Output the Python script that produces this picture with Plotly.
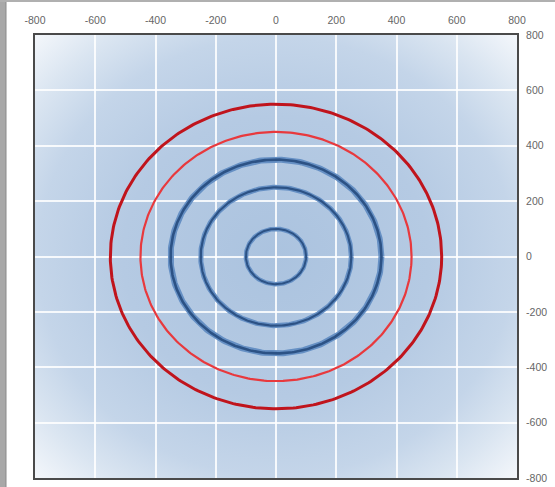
import math
import base64
import plotly.graph_objects as go

# ---- data ----
BLUE_RADII = [100, 250, 350]
RED_RADII = [450, 550]
TICK_VALUES = [-800, -600, -400, -200, 0, 200, 400, 600, 800]
TICK_LABELS = ["-800", "-600", "-400", "-200", "0", "200", "400", "600", "800"]
AXIS_RANGE = [-800, 800]

# ---- styles ----
BLUE_STYLE = {100: (4.5, 2.0), 250: (5.0, 2.2), 350: (6.0, 2.6)}  # (glow width, core width)
RED_STYLE = {450: ("#e8393d", 2.2), 550: ("#c0141c", 3.0)}

W, H = 555, 487
L, R, T, B = 35, 38, 35, 9
PW, PH = W - L - R, H - T - B


def ring(r, n=361):
    th = [2 * math.pi * i / (n - 1) for i in range(n)]
    return [r * math.cos(t) for t in th], [r * math.sin(t) for t in th]


fig = go.Figure()

for r in BLUE_RADII:
    xs, ys = ring(r)
    glow, core = BLUE_STYLE[r]
    fig.add_trace(go.Scatter(x=xs, y=ys, mode="lines",
                             line=dict(color="#6690c4", width=glow),
                             hoverinfo="skip", showlegend=False))
    fig.add_trace(go.Scatter(x=xs, y=ys, mode="lines",
                             line=dict(color="#2c5285", width=core),
                             hoverinfo="skip", showlegend=False))

for r in RED_RADII:
    xs, ys = ring(r)
    col, w = RED_STYLE[r]
    fig.add_trace(go.Scatter(x=xs, y=ys, mode="lines",
                             line=dict(color=col, width=w),
                             hoverinfo="skip", showlegend=False))

# radial gradient background as inline SVG
svg = (
    '<svg xmlns="http://www.w3.org/2000/svg" width="400" height="400" viewBox="0 0 1 1" preserveAspectRatio="none">'
    '<defs><radialGradient id="g" cx="0.5" cy="0.5" r="0.7071" gradientUnits="objectBoundingBox">'
    '<stop offset="0" stop-color="#abc3df"/>'
    '<stop offset="0.45" stop-color="#b5cae3"/>'
    '<stop offset="0.70" stop-color="#c4d5e9"/>'
    '<stop offset="0.85" stop-color="#dae5f1"/>'
    '<stop offset="1" stop-color="#f4f7fb"/>'
    '</radialGradient></defs>'
    '<rect x="0" y="0" width="1" height="1" fill="url(#g)"/></svg>'
)
src = "data:image/svg+xml;base64," + base64.b64encode(svg.encode()).decode()

fig.add_layout_image(dict(source=src, xref="x", yref="y",
                          x=AXIS_RANGE[0], y=AXIS_RANGE[1],
                          sizex=AXIS_RANGE[1] - AXIS_RANGE[0],
                          sizey=AXIS_RANGE[1] - AXIS_RANGE[0],
                          sizing="stretch", layer="below",
                          xanchor="left", yanchor="top"))

font = dict(family="Liberation Sans, Arial, sans-serif", size=10.5, color="#666666")

axis_common = dict(range=AXIS_RANGE, tickvals=TICK_VALUES, ticktext=TICK_LABELS,
                   showgrid=True, gridcolor="rgba(255,255,255,0.85)", gridwidth=1.5,
                   zeroline=False, showline=True, mirror=True,
                   linecolor="#4a4a4a", linewidth=2,
                   ticks="outside", ticklen=5, tickcolor="rgba(0,0,0,0)",
                   tickfont=font, fixedrange=True)

fig.update_layout(
    width=W, height=H,
    margin=dict(l=L, r=R, t=T, b=B, pad=0, autoexpand=False),
    paper_bgcolor="white",
    plot_bgcolor="#c6d6ea",
    xaxis=dict(side="top", **axis_common),
    yaxis=dict(side="right", **axis_common),
    showlegend=False,
)

# soft shadow on right and bottom of the frame
fig.add_shape(type="line", xref="x", yref="y", xsizemode="pixel", xanchor=AXIS_RANGE[1],
              x0=2.5, x1=2.5, y0=AXIS_RANGE[0] - 8, y1=AXIS_RANGE[1] - 10,
              line=dict(color="rgba(0,0,0,0.18)", width=2), layer="above")
fig.add_shape(type="line", xref="x", yref="y", ysizemode="pixel", yanchor=AXIS_RANGE[0],
              y0=-2.5, y1=-2.5, x0=AXIS_RANGE[0] + 10, x1=AXIS_RANGE[1] + 8,
              line=dict(color="rgba(0,0,0,0.18)", width=2), layer="above")

# page border strips (left and top)
fig.add_shape(type="rect", xref="paper", yref="paper",
              x0=(0 - L) / PW, x1=(6 - L) / PW, y0=(PH + T - H) / PH, y1=(PH + T) / PH,
              fillcolor="#a8a8a8", line=dict(width=0), layer="above")
fig.add_shape(type="line", xref="paper", yref="paper",
              x0=(6 - L) / PW, x1=(6 - L) / PW, y0=(PH + T - H) / PH, y1=(PH + T - 2) / PH,
              line=dict(color="#8a8a8a", width=1), layer="above")
fig.add_shape(type="rect", xref="paper", yref="paper",
              x0=(0 - L) / PW, x1=(W - L) / PW, y0=(PH + T - 2) / PH, y1=(PH + T) / PH,
              fillcolor="#b0b0b0", line=dict(width=0), layer="above")

fig.write_html("out.html", config={"displayModeBar": False},
               post_script="document.body.style.margin='0';document.body.style.overflow='hidden';")
